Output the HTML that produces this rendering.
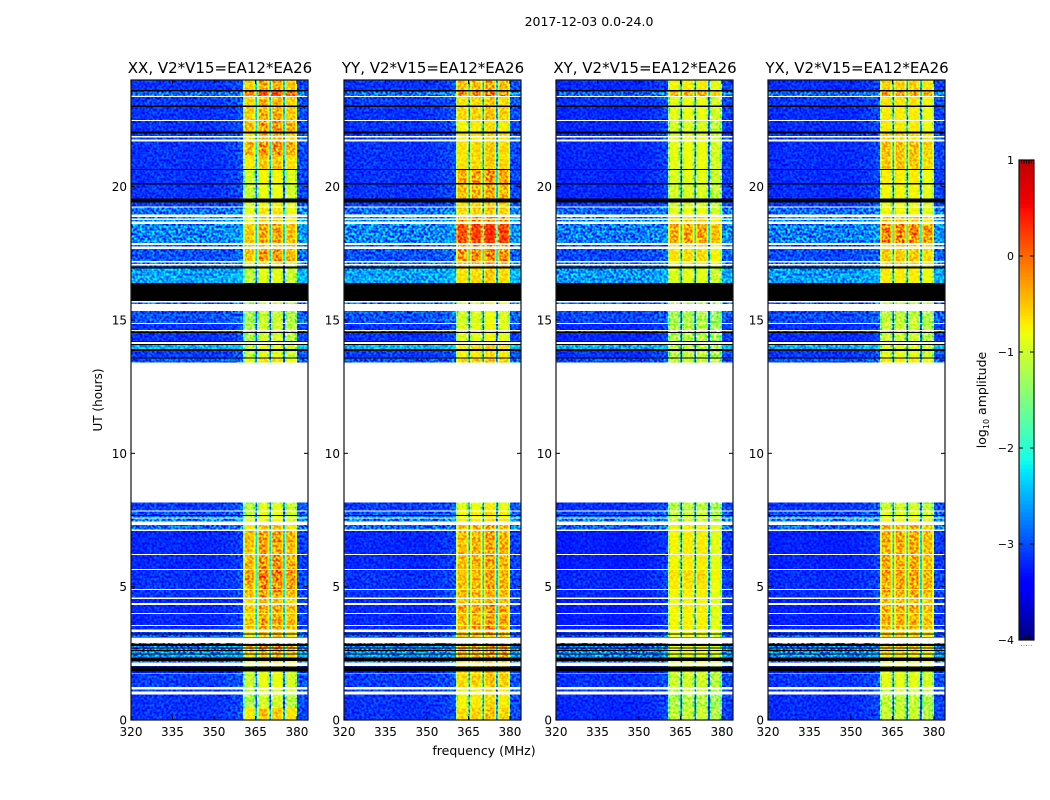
<!DOCTYPE html>
<html><head><meta charset="utf-8"><title>Amplitude waterfall</title>
<style>
html,body{margin:0;padding:0;background:#fff;}
svg{display:block;font-family:"DejaVu Sans","Liberation Sans",sans-serif;fill:#000;}
</style></head>
<body>
<svg id="fig" width="1050" height="800" viewBox="0 0 1050 800" xmlns="http://www.w3.org/2000/svg">
<defs>
<filter id="speckle" x="0" y="0" width="100%" height="100%" color-interpolation-filters="sRGB">
<feTurbulence type="fractalNoise" baseFrequency="0.42" numOctaves="1" seed="7"/>
<feColorMatrix type="matrix" values="3 0 0 0 -1  3 0 0 0 -1  3 0 0 0 -1  0 0 0 0 1"/>
</filter>
</defs>
<rect width="1050" height="800" fill="#fff"/>
<text x="589" y="26" font-size="12.5" text-anchor="middle">2017-12-03 0.0-24.0</text>
<text x="484" y="755" font-size="12.5" text-anchor="middle">frequency (MHz)</text>
<text x="0" y="0" font-size="12" text-anchor="middle" transform="translate(102,400) rotate(-90)">UT (hours)</text>
<text x="0" y="0" font-size="12.5" text-anchor="middle" transform="translate(986,400) rotate(-90)">log<tspan font-size="8" dy="3">10</tspan><tspan dy="-3"> amplitude</tspan></text>
<g id="panels"></g>
<g id="colorbar"></g>
</svg>
<script>
// ---- chart data ----
const panelTitles = ['XX, V2*V15=EA12*EA26','YY, V2*V15=EA12*EA26','XY, V2*V15=EA12*EA26','YX, V2*V15=EA12*EA26'];
const xTicks = [320,335,350,365,380];
const yTicks = [0,5,10,15,20];
const colorTicks = [-4,-3,-2,-1,0,1];
const colorTickLabels = ['\u22124','\u22123','\u22122','\u22121','0','1'];

// Frequency column edges (MHz), column role: b background, 0-3 sub-band, g gap between sub-bands
const freqEdges = [320,326,332,338,344,350,353,356,358.5,360.5,361.2,364.3,365,365.6,366.2,369.4,370,370.6,371.2,374.4,375,375.6,376.2,379.3,380,384];
const columnRole = ['b','b','b','b','b','b','b','b','b',0,0,0,'g',1,1,1,'g',2,2,2,'g',3,3,3,'b'];
const columnOffset = [0,0.03,0.02,0,0,0.02,0.05,0.08,0.15,-0.5,0,-0.45,-2,-0.4,0,-0.45,-2,-0.4,0,-0.4,-2,-0.35,0,-0.4,0.12];

// Time rows holding data (UT hours); anything not covered stays white (no data)
const rowStart = [0,0.45,1.06,1.23,1.77,2,2.16,2.34,2.5,2.63,
  2.72,2.85,3.12,3.25,3.4,3.56,3.79,4.01,4.38,4.59,
  4.91,5.25,5.66,5.93,6.23,6.64,7.15,7.44,7.59,7.69,
  7.85,8.12,13.4,13.59,13.91,14.21,14.55,14.63,14.88,15.6,
  16.38,17,17.1,17.22,17.75,17.88,18.69,18.81,18.96,19.25,
  19.56,20.14,20.66,21.19,21.77,21.9,22.06,22.5,23.04,23.4,23.63];
const rowEnd = [0.45,0.96,1.15,1.74,1.81,2.03,2.21,2.46,2.58,2.69,
  2.78,2.88,3.21,3.3,3.53,3.79,3.98,4.31,4.54,4.88,
  5.25,5.63,5.93,6.19,6.64,7.08,7.31,7.56,7.65,7.81,
  8.12,8.16,13.56,13.84,14.06,14.51,14.59,14.85,15.34,15.65,
  16.94,17.04,17.16,17.66,17.81,18.6,18.75,18.87,19.21,19.41,
  20.09,20.63,21.19,21.69,21.85,22,22.46,22.99,23.36,23.57,24];

// log10 amplitude of the off-band background for each data row
const backgroundLevel = [-3.15,-3.15,-3.1,-3.1,-3.2,-3.1,-2.9,-2.65,-2.7,-2.75,
  -2.75,-2.75,-3,-3.1,-3.2,-3.2,-3.2,-3.2,-3.2,-3.15,
  -3.15,-3.15,-3.2,-3.2,-3.2,-3.2,-2.9,-2.75,-2.9,-3,
  -3.1,-3.15,-3,-3.1,-2.5,-3.15,-3.1,-3.15,-3,-2.9,
  -2.6,-2.9,-2.8,-3,-3,-2.75,-2.7,-2.7,-2.85,-3.1,
  -3.15,-3.15,-3.15,-3.15,-3.1,-3.1,-3.15,-3.15,-3.1,-2.85,-3.15];

// log10 amplitude inside the 360-380 MHz band for each data row, by polarization
const bandLevelXX = [-0.55,-1,-0.9,-0.85,-0.9,-0.8,-0.7,-0.55,-0.4,-0.3,
  -0.3,-0.3,-0.6,-0.5,-0.35,-0.3,-0.45,-0.35,-0.5,-0.3,
  -0.2,-0.15,-0.25,-0.3,-0.35,-0.3,-0.55,-0.8,-0.9,-0.85,
  -0.9,-1.1,-0.7,-0.9,-0.85,-1,-1,-1,-1.05,-1,
  -0.9,-0.8,-0.7,-0.3,-0.4,-0.35,-0.6,-0.6,-0.7,-0.8,
  -0.85,-0.8,-0.55,-0.25,-0.5,-0.5,-0.3,-0.4,-0.45,0.1,-0.4];
const bandLevelYY = [-0.55,-0.7,-0.7,-0.55,-0.6,-0.55,-0.5,-0.4,-0.35,-0.35,
  -0.35,-0.35,-0.5,-0.45,-0.3,-0.35,-0.4,-0.3,-0.45,-0.4,
  -0.4,-0.4,-0.4,-0.4,-0.4,-0.4,-0.4,-0.7,-0.75,-0.7,
  -0.8,-0.9,-0.55,-0.7,-0.65,-0.85,-0.85,-0.85,-0.9,-0.85,
  -0.6,-0.45,-0.45,-0.2,-0.25,0.2,-0.2,-0.25,-0.55,-0.6,
  -0.4,-0.3,-0.6,-0.6,-0.65,-0.65,-0.7,-0.55,-0.6,-0.2,-0.45];
const bandLevelXY = [-1,-1.1,-1,-0.95,-0.95,-0.85,-0.8,-0.8,-0.75,-0.75,
  -0.75,-0.75,-0.8,-0.75,-0.7,-0.7,-0.75,-0.7,-0.75,-0.7,
  -0.65,-0.6,-0.7,-0.7,-0.7,-0.7,-0.7,-0.95,-1,-1,
  -1.05,-1.15,-1,-1.05,-1.05,-1.1,-1.1,-1.1,-1.15,-1.1,
  -0.85,-0.8,-0.75,-0.6,-0.65,-0.3,-0.55,-0.6,-0.8,-0.9,
  -0.9,-0.85,-0.8,-0.8,-0.85,-0.85,-0.9,-0.8,-0.8,-0.4,-0.7];
const bandLevelYX = [-1,-1.05,-1,-0.85,-0.9,-0.8,-0.75,-0.7,-0.6,-0.55,
  -0.55,-0.55,-0.6,-0.55,-0.4,-0.35,-0.4,-0.35,-0.45,-0.35,
  -0.3,-0.3,-0.35,-0.35,-0.35,-0.35,-0.4,-0.8,-0.85,-0.85,
  -0.95,-1.1,-0.7,-0.85,-0.85,-1,-1,-1,-1.05,-1,
  -0.7,-0.65,-0.6,-0.5,-0.55,-0.15,-0.45,-0.5,-0.75,-0.8,
  -0.75,-0.7,-0.5,-0.45,-0.6,-0.6,-0.7,-0.7,-0.65,-0.3,-0.55];

// Time ranges where the amplitude is zero (drawn black)
const zeroStart = [1.81,2.21,2.46,2.58,2.69,2.78,3.09,3.21,7.65,13.56,13.84,14.06,14.18,14.51,15.72,16.94,19.41,20.09,20.63,22,22.99,23.57];
const zeroEnd = [2,2.34,2.5,2.63,2.72,2.85,3.12,3.25,7.69,13.59,13.91,14.1,14.21,14.55,16.38,17,19.56,20.14,20.66,22.06,23.04,23.63];

// Level shift of the four sub-bands and of the off-band background, by polarization
const subbandOffsetXX = [-0.15,0.05,0.05,-0.1];
const subbandOffsetYY = [-0.05,0,0.1,0];
const subbandOffsetXY = [-0.05,0,0,-0.15];
const subbandOffsetYX = [0,0,0,-0.1];
const backgroundOffset = [0,0,-0.05,-0.03];

// ---- layout ----
const SVGNS = 'http://www.w3.org/2000/svg';
const plotTop = 80, plotBottom = 720, plotWidth = 177;
const panelLefts = [131,344,556,768];
const freqMin = 320, freqMax = 384, utMin = 0, utMax = 24;
const cbLeft = 1019, cbRight = 1034, cbTop = 160, cbBottom = 640, cMin = -4, cMax = 1;
const bandLevels = [bandLevelXX,bandLevelYY,bandLevelXY,bandLevelYX];
const subbandOffsets = [subbandOffsetXX,subbandOffsetYY,subbandOffsetXY,subbandOffsetYX];

function xScale(left, f){ return left + (f - freqMin) / (freqMax - freqMin) * plotWidth; }
function yScale(ut){ return plotBottom - (ut - utMin) / (utMax - utMin) * (plotBottom - plotTop); }
function cScale(v){ return cbBottom - (v - cMin) / (cMax - cMin) * (cbBottom - cbTop); }
function clamp(v){ return Math.max(0, Math.min(1, v)); }
function jet(v){
  const t = clamp((v - cMin) / (cMax - cMin));
  const r = clamp(Math.min((t - 0.35) / 0.31, 1 - (t - 0.89) / 0.22 * 0.5));
  const g = clamp(t < 0.5 ? (t - 0.125) / 0.25 : (0.91 - t) / 0.27);
  const b = clamp(t < 0.35 ? 0.5 + t / 0.11 * 0.5 : (0.65 - t) / 0.3);
  return 'rgb(' + Math.round(r*255) + ',' + Math.round(g*255) + ',' + Math.round(b*255) + ')';
}
function make(tag, attrs, parent){
  const el = document.createElementNS(SVGNS, tag);
  for (const k in attrs) el.setAttribute(k, attrs[k]);
  parent.appendChild(el);
  return el;
}
function tickLine(parent, x1, y1, x2, y2){
  const ln = make('line', {x1:x1, y1:y1, x2:x2, y2:y2, stroke:'#000', 'stroke-width':1}, parent);
  
  
}
function cellValue(p, r, c){
  const role = columnRole[c];
  if (role === 'b') return backgroundLevel[r] + backgroundOffset[p] + columnOffset[c];
  if (role === 'g') return bandLevels[p][r] + columnOffset[c];
  return bandLevels[p][r] + subbandOffsets[p][role] + columnOffset[c];
}

const panelsRoot = document.getElementById('panels');
panelTitles.forEach(function(title, p){
  const left = panelLefts[p];
  const g = make('g', {style:'isolation:isolate'}, panelsRoot);
  
  

  const base = make('rect', {x:left, y:plotTop, width:plotWidth, height:plotBottom-plotTop, fill:'#fff'}, g);
  
  

  const heat = make('g', {'shape-rendering':'crispEdges'}, g);
  
  
  rowStart.forEach(function(start, r){
    const y0 = yScale(rowEnd[r]), y1 = yScale(start);
    columnRole.forEach(function(role, c){
      const x0 = xScale(left, freqEdges[c]), x1 = xScale(left, freqEdges[c+1]);
      const cell = make('rect', {x:x0.toFixed(2), y:y0.toFixed(2), width:(x1-x0).toFixed(2), height:(y1-y0).toFixed(2), fill:jet(cellValue(p, r, c))}, heat);
      
      
    });
  });
  zeroStart.forEach(function(start, z){
    const y0 = yScale(zeroEnd[z]), y1 = yScale(start);
    const band = make('rect', {x:left, y:y0.toFixed(2), width:plotWidth, height:(y1-y0).toFixed(2), fill:'#000'}, heat);
    
    
  });

  const noise = make('rect', {x:left, y:plotTop, width:plotWidth, height:plotBottom-plotTop, filter:'url(#speckle)', style:'mix-blend-mode:overlay'}, g);
  
  

  const frame = make('rect', {x:left, y:plotTop, width:plotWidth, height:plotBottom-plotTop, fill:'none', stroke:'#111', 'stroke-width':1.2}, g);
  
  

  xTicks.forEach(function(t){
    const x = xScale(left, t);
    tickLine(g, x, plotBottom, x, plotBottom-4);
    tickLine(g, x, plotTop, x, plotTop+4);
    const lab = make('text', {x:x, y:plotBottom+16, 'font-size':12, 'text-anchor':'middle'}, g);
    
    
    lab.textContent = String(t);
  });
  yTicks.forEach(function(t){
    const y = yScale(t);
    tickLine(g, left, y, left+4, y);
    tickLine(g, left+plotWidth, y, left+plotWidth-4, y);
    const lab = make('text', {x:left-4, y:y+4.5, 'font-size':12, 'text-anchor':'end'}, g);
    
    
    lab.textContent = String(t);
  });
  const ttl = make('text', {x:left+plotWidth/2+0.5, y:plotTop-7, 'font-size':15, 'text-anchor':'middle'}, g);
  
  
  ttl.textContent = title;
});

// ---- colorbar ----
const cbRoot = document.getElementById('colorbar');
const cbSteps = 120;
for (let i = 0; i < cbSteps; i++){
  const vLow = cMin + (cMax - cMin) * i / cbSteps;
  const vHigh = cMin + (cMax - cMin) * (i + 1) / cbSteps;
  const seg = make('rect', {x:cbLeft, y:cScale(vHigh), width:cbRight-cbLeft, height:cScale(vLow)-cScale(vHigh)+0.5, fill:jet((vLow+vHigh)/2), 'shape-rendering':'crispEdges'}, cbRoot);
  
  
}
const cbFrame = make('rect', {x:cbLeft, y:cbTop, width:cbRight-cbLeft, height:cbBottom-cbTop, fill:'none', stroke:'#111', 'stroke-width':1.2}, cbRoot);


colorTicks.forEach(function(v, i){
  const y = cScale(v);
  tickLine(cbRoot, cbLeft, y, cbLeft+4, y);
  tickLine(cbRoot, cbRight, y, cbRight-4, y);
  const lab = make('text', {x:cbLeft-5, y:y+4, 'font-size':11, 'text-anchor':'end'}, cbRoot);
  
  
  lab.textContent = colorTickLabels[i];
});
for (let x = cbLeft + 2.5; x < cbRight; x += 2.5){
  tickLine(cbRoot, x, cbTop, x, cbTop+4);
  tickLine(cbRoot, x, cbBottom, x, cbBottom-4);
  const dot = make('rect', {x:x-0.5, y:cbBottom+5, width:1, height:1, fill:'#999'}, cbRoot);
  
  
}
</script>
</body></html>
